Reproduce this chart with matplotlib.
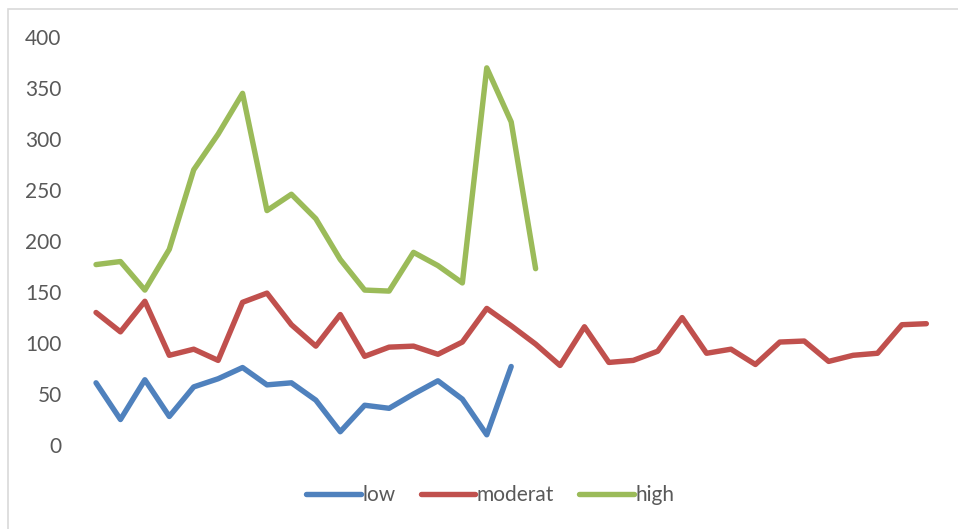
import matplotlib
matplotlib.use("Agg")
import matplotlib.pyplot as plt
from matplotlib.patches import Rectangle

plt.rcParams['font.family'] = ['Lato', 'DejaVu Sans']

# series values, one per category position
low = [61, 25, 64, 28, 57, 65, 76, 59, 61, 44, 13, 39, 36, 50, 63, 45, 10, 77]
moderat = [130, 111, 141, 88, 94, 83, 140, 149, 118, 97, 128, 87, 96, 97, 89, 101,
           134, 117, 99, 78, 116, 81, 83, 92, 125, 90, 94, 79, 101, 102, 82, 88,
           90, 118, 119]
high = [177, 180, 152, 192, 270, 305, 345, 230, 246, 222, 182, 152, 151, 189,
        176, 159, 370, 317, 173]
y_ticks = [0, 50, 100, 150, 200, 250, 300, 350, 400]

series = [("low", low, "#4F81BD"),
          ("moderat", moderat, "#C0504D"),
          ("high", high, "#9BBB59")]

fig = plt.figure(figsize=(9.58, 5.29), dpi=100)
ax = fig.add_axes([0.0875, 0.1588, 0.8922, 0.7707])

# chart area border
fig.patches.append(Rectangle((8 / 958, -0.05), 1.0, 0.05 + (529 - 9) / 529,
                             transform=fig.transFigure, fill=False,
                             edgecolor="#D9D9D9", linewidth=1.2))

n_cat = len(moderat)
for name, vals, color in series:
    ax.plot(range(len(vals)), vals, color=color, linewidth=3.9, label=name,
            solid_capstyle="round", solid_joinstyle="round", clip_on=False)

ax.set_xlim(-0.5, n_cat - 0.5)
ax.set_ylim(0, 400)
ax.set_yticks(y_ticks)
ax.set_xticks([])
ax.tick_params(axis="y", length=0, labelsize=15, labelcolor="#595959", pad=16)
for s in ax.spines.values():
    s.set_visible(False)

leg = fig.legend(loc="center", bbox_to_anchor=(0.512, 0.064), ncol=3,
                 frameon=False, fontsize=15, handlelength=2.6,
                 handletextpad=0.1, columnspacing=1.2)
for t in leg.get_texts():
    t.set_color("#595959")

fig.savefig("out.png", dpi=100)
